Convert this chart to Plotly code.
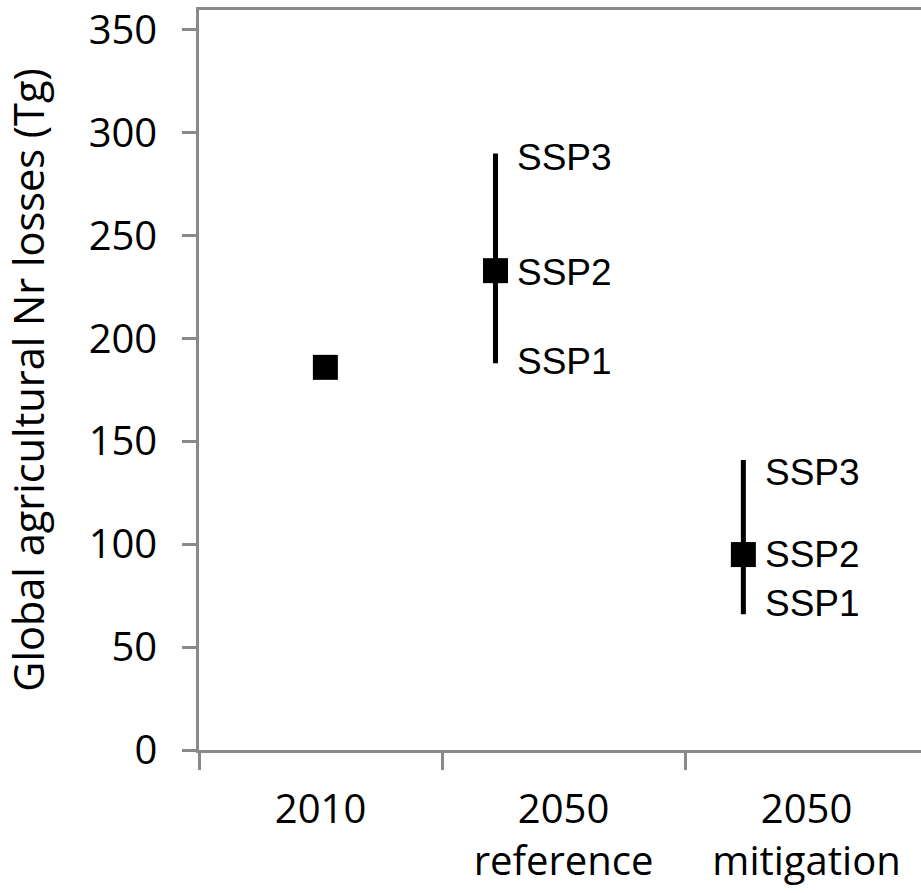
import plotly.graph_objects as go

# ---- data ----
categories = ["2010", "2050<br>reference", "2050<br>mitigation"]
category_pos = [0.5, 1.5, 2.5]
category_edges = [0, 1, 2]
point_x = [0.52, 1.22, 2.24]
central = [186, 233, 95]          # SSP2 / central estimate (Tg)
upper = [186, 290, 141]           # SSP3
lower = [186, 188, 66]            # SSP1
y_ticks = [0, 50, 100, 150, 200, 250, 300, 350]
ssp_names = ["SSP3", "SSP2", "SSP1"]

AX = "#898989"
TICKFONT = dict(family="Open Sans", size=40, color="#000000")

err_plus = [u - c for u, c in zip(upper, central)]
err_minus = [c - l for c, l in zip(central, lower)]

fig = go.Figure()
fig.add_trace(go.Scatter(
    x=point_x, y=central, mode="markers",
    marker=dict(symbol="square", size=25, color="#000000"),
    error_y=dict(type="data", symmetric=False, array=err_plus, arrayminus=err_minus,
                 thickness=5, width=0, color="#000000"),
    showlegend=False, hoverinfo="skip",
))

# SSP labels beside the error bars
label_shift = {1: [-4, -2, 2], 2: [-13, 0, 11]}
for i in (1, 2):
    vals = [upper[i], central[i], lower[i]]
    for name, v, ys in zip(ssp_names, vals, label_shift[i]):
        fig.add_annotation(x=point_x[i], y=v, xref="x", yref="y", text=name,
                           showarrow=False, xanchor="left", yanchor="middle",
                           xshift=20, yshift=ys,
                           font=dict(family="Liberation Sans, Arial", size=37, color="#000000"))

fig.update_xaxes(
    range=[0, 2.971], showgrid=False, zeroline=False, automargin=False,
    showline=True, linecolor=AX, linewidth=2.5, mirror=True,
    tickmode="array", tickvals=category_pos, ticktext=categories, ticks="",
    tickfont=TICKFONT, ticklabelstandoff=22, ticklabeloverflow="allow",
    minor=dict(tickmode="array", tickvals=category_edges, ticks="outside",
               ticklen=17, tickwidth=2.5, tickcolor=AX, showgrid=False),
)
fig.update_yaxes(
    range=[0, 359.7], showgrid=False, zeroline=False, automargin=False,
    showline=True, linecolor=AX, linewidth=2.5,
    tickmode="array", tickvals=y_ticks, ticks="outside", ticklen=14,
    tickwidth=2.5, tickcolor=AX, tickfont=TICKFONT, ticklabelstandoff=17,
    ticklabeloverflow="allow",
    title=dict(text="Global agricultural Nr losses (Tg)",
               font=dict(family="Open Sans", size=41.5, color="#000000"), standoff=38),
)
fig.update_layout(
    width=921, height=893,
    margin=dict(l=199, r=0, t=10, b=143),
    paper_bgcolor="white", plot_bgcolor="white",
)
fig.write_html("out.html", config={"displayModeBar": False},
               post_script="document.body.style.margin='0px';")
